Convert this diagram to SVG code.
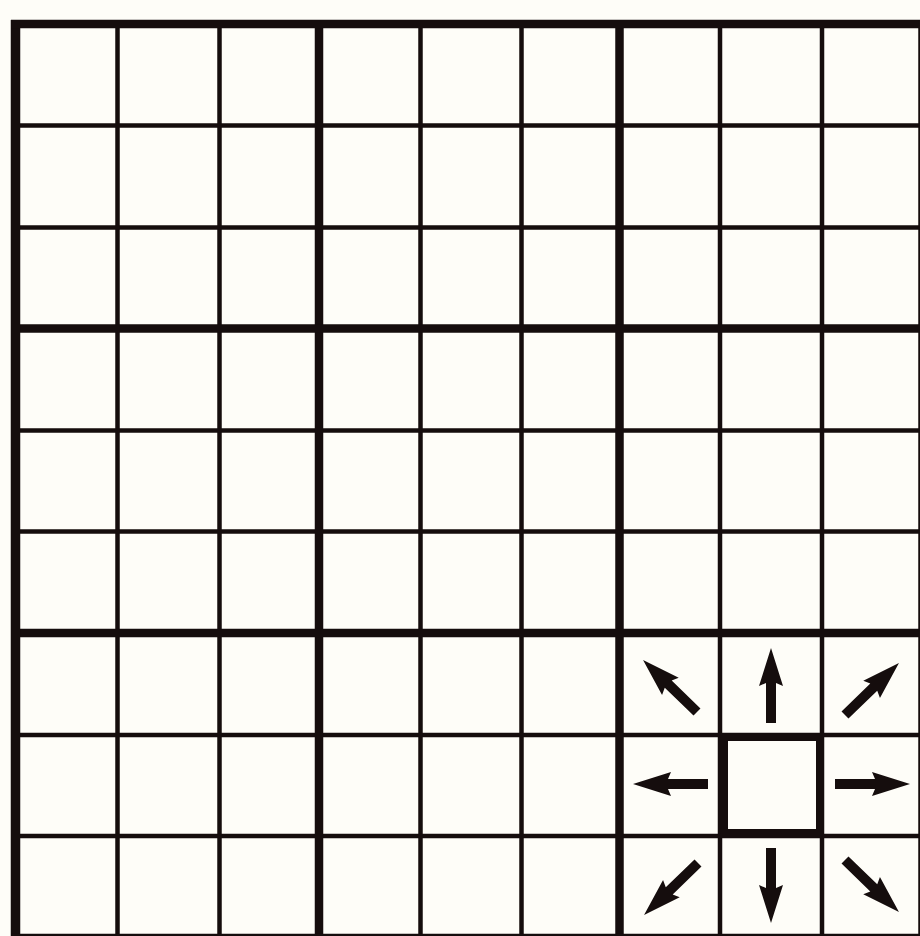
<svg xmlns="http://www.w3.org/2000/svg" xmlns:xlink="http://www.w3.org/1999/xlink" width="920" height="936" viewBox="0 0 920 936">
  <style>
    .thin { stroke: #150d0d; stroke-width: 4.5; fill: none; }
    .thick { stroke: #150d0d; stroke-width: 8.5; fill: none; }
    .arrow { fill: #150d0d; }
  </style>
  <defs>
    <path id="arr" class="arrow" d="M0,-5 L40,-5 L37,-12 L75,0 L37,12 L40,5 L0,5 Z"/>
  </defs>
  <rect width="920" height="936" fill="#fefdf8"/>
  <g id="grid">
    <g id="thin-lines" class="thin">
      <line x1="117.5" y1="20" x2="117.5" y2="940"/>
      <line x1="219.5" y1="20" x2="219.5" y2="940"/>
      <line x1="420.5" y1="20" x2="420.5" y2="940"/>
      <line x1="521.5" y1="20" x2="521.5" y2="940"/>
      <line x1="720" y1="20" x2="720" y2="940"/>
      <line x1="822" y1="20" x2="822" y2="940"/>
      <line x1="11" y1="125.5" x2="925" y2="125.5"/>
      <line x1="11" y1="227.5" x2="925" y2="227.5"/>
      <line x1="11" y1="430.5" x2="925" y2="430.5"/>
      <line x1="11" y1="531.5" x2="925" y2="531.5"/>
      <line x1="11" y1="735" x2="925" y2="735"/>
      <line x1="11" y1="836" x2="925" y2="836"/>
    </g>
    <g id="thick-lines" class="thick">
      <line x1="319" y1="20" x2="319" y2="940"/>
      <line x1="619.5" y1="20" x2="619.5" y2="940"/>
      <line x1="11" y1="328.5" x2="925" y2="328.5"/>
      <line x1="11" y1="633" x2="925" y2="633"/>
      <line x1="15.5" y1="20" x2="15.5" y2="940" stroke-width="9.5"/>
      <line x1="11" y1="24" x2="925" y2="24"/>
      <line x1="922.5" y1="20" x2="922.5" y2="940"/>
      <line x1="11" y1="938" x2="925" y2="938"/>
    </g>
  </g>
  <g id="selected-cell">
    <rect x="724.5" y="737.5" width="95" height="95" fill="none" stroke="#150d0d" stroke-width="7"/>
  </g>
  <g id="arrows">
    <use xlink:href="#arr" transform="translate(771,723) rotate(-90)"/>
    <use xlink:href="#arr" transform="translate(771,848) rotate(90)"/>
    <use xlink:href="#arr" transform="translate(708,784) rotate(180)"/>
    <use xlink:href="#arr" transform="translate(835,784)"/>
    <use xlink:href="#arr" transform="translate(697,712) rotate(-136)"/>
    <use xlink:href="#arr" transform="translate(845,715) rotate(-44)"/>
    <use xlink:href="#arr" transform="translate(698,863) rotate(136)"/>
    <use xlink:href="#arr" transform="translate(845,860) rotate(44)"/>
  </g>
</svg>
